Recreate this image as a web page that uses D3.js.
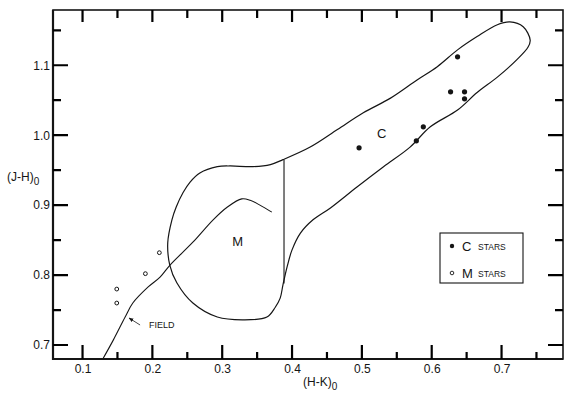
<!DOCTYPE html>
<html>
<head>
<meta charset="utf-8">
<script src="https://cdn.jsdelivr.net/npm/d3@7"></script>
<style>
body { margin: 0; background: #fff; }
svg { font-family: "Liberation Sans", Arial, sans-serif; }
</style>
</head>
<body>
<svg id="chart" width="568" height="396"></svg>
<script>
// tick values
var xMajor = [0.1, 0.2, 0.3, 0.4, 0.5, 0.6, 0.7];
var xMinor = [0.15, 0.25, 0.35, 0.45, 0.55, 0.65, 0.75];
var yMajor = [0.7, 0.8, 0.9, 1.0, 1.1];
var yMinor = [0.75, 0.85, 0.95, 1.05, 1.15];

// [(H-K)0, (J-H)0]
var cStars = [[0.637, 1.112], [0.627, 1.062], [0.647, 1.062], [0.647, 1.052],
	[0.588, 1.012], [0.578, 0.992], [0.496, 0.982]];
var mStars = [[0.210, 0.832], [0.190, 0.802], [0.149, 0.780], [0.149, 0.760]];

var fieldLine = [[0.129, 0.680], [0.144, 0.707], [0.161, 0.740], [0.172, 0.760],
	[0.194, 0.783], [0.211, 0.797], [0.225, 0.814], [0.258, 0.847], [0.287, 0.879],
	[0.307, 0.897], [0.328, 0.909], [0.340, 0.907], [0.354, 0.900], [0.371, 0.890]];

// boundary of the M and C regions
var outline = [[0.387, 0.965], [0.369, 0.958], [0.344, 0.955], [0.311, 0.956],
	[0.293, 0.955], [0.268, 0.946], [0.254, 0.933], [0.244, 0.918], [0.234, 0.897],
	[0.228, 0.879], [0.222, 0.846], [0.225, 0.814], [0.235, 0.789], [0.258, 0.760],
	[0.293, 0.740], [0.330, 0.736], [0.364, 0.740], [0.376, 0.754], [0.383, 0.767],
	[0.387, 0.786], [0.393, 0.812], [0.400, 0.836], [0.412, 0.860], [0.430, 0.879],
	[0.455, 0.896], [0.493, 0.926], [0.531, 0.955], [0.569, 0.983], [0.598, 1.012],
	[0.637, 1.036], [0.665, 1.061], [0.694, 1.083], [0.722, 1.108], [0.738, 1.126],
	[0.741, 1.136], [0.731, 1.155], [0.712, 1.162], [0.694, 1.158], [0.665, 1.141],
	[0.637, 1.122], [0.608, 1.098], [0.579, 1.079], [0.541, 1.053], [0.502, 1.032],
	[0.465, 1.008], [0.426, 0.983]];
var divider = [[0.3885, 0.965], [0.3885, 0.788]];

var legendItems = [{ big: "C", small: "STARS", filled: true },
	{ big: "M", small: "STARS", filled: false }];

var L = 53, R = 563, T = 10, B = 359;
var ink = "#151515";

var x = d3.scaleLinear().domain([0.0577, 0.788]).range([L, R]);
var y = d3.scaleLinear().domain([0.68, 1.179]).range([B, T]);

var svg = d3.select("#chart");
var fmt = d3.format(".1f");

// frame first, ticks on top of it
svg.append("rect").attr("x", L).attr("y", T).attr("width", R - L).attr("height", B - T)
	.attr("fill", "none").attr("stroke", ink).attr("stroke-width", 1.6);
svg.append("path")
	.attr("d", "M" + L + "," + T + "V" + B + "H" + R)
	.attr("fill", "none").attr("stroke", ink).attr("stroke-width", 2.2);

// tick marks, all pointing into the plot
var tickSpecs = [
	{ vals: xMajor, dir: "x", at: B, len: -14 },
	{ vals: xMinor, dir: "x", at: B, len: -7 },
	{ vals: xMajor, dir: "x", at: T, len: 12 },
	{ vals: xMinor, dir: "x", at: T, len: 8 },
	{ vals: yMajor, dir: "y", at: L, len: 15 },
	{ vals: yMinor, dir: "y", at: L, len: 8 },
	{ vals: yMajor, dir: "y", at: R, len: -15 },
	{ vals: yMinor, dir: "y", at: R, len: -8 }
];
var tickPath = d3.path();
tickSpecs.forEach(function(s) {
	s.vals.forEach(function(v) {
		if (s.dir === "x") {
			tickPath.moveTo(x(v), s.at);
			tickPath.lineTo(x(v), s.at + s.len);
		} else {
			tickPath.moveTo(s.at, y(v));
			tickPath.lineTo(s.at + s.len, y(v));
		}
	});
});
svg.append("path")
	.attr("d", tickPath.toString())
	.attr("fill", "none")
	.attr("stroke", "#000")
	.attr("stroke-width", 2.2);

// tick labels via d3 axes (their own tick lines removed)
function styleAxis(g) {
	g.select(".domain").remove();
	g.selectAll(".tick line").remove();
	g.selectAll("text").attr("fill", ink).attr("font-size", 12)
		.attr("font-family", "Liberation Sans, Arial, sans-serif");
}
svg.append("g").attr("transform", "translate(0," + B + ")")
	.call(d3.axisBottom(x).tickValues(xMajor).tickSize(0).tickPadding(5).tickFormat(fmt))
	.call(styleAxis);
svg.append("g").attr("transform", "translate(" + L + ",0)")
	.call(d3.axisLeft(y).tickValues(yMajor).tickSize(0).tickPadding(3).tickFormat(fmt))
	.call(styleAxis);

// axis titles
var yt = svg.append("text").attr("x", 7).attr("y", 181)
	.attr("font-size", 12).attr("fill", ink).text("(J-H)");
yt.append("tspan").attr("dy", 4).attr("font-size", 10).text("0");
var xt = svg.append("text").attr("x", 303).attr("y", 386)
	.attr("font-size", 12).attr("fill", ink).text("(H-K)");
xt.append("tspan").attr("dy", 4).attr("font-size", 10).text("0");

// curves
var line = d3.line().x(function(d) { return x(d[0]); }).y(function(d) { return y(d[1]); });

svg.append("path")
	.attr("d", line.curve(d3.curveCatmullRomClosed)(outline))
	.attr("fill", "none").attr("stroke", ink).attr("stroke-width", 1.2);

svg.append("path")
	.attr("d", line.curve(d3.curveCatmullRom)(fieldLine))
	.attr("fill", "none").attr("stroke", ink).attr("stroke-width", 1.1);

svg.append("path")
	.attr("d", line.curve(d3.curveLinear)(divider))
	.attr("fill", "none").attr("stroke", ink).attr("stroke-width", 1.1);

// stars
svg.selectAll("circle.c")
	.data(cStars)
	.enter().append("circle")
	.attr("class", "c")
	.attr("cx", function(d) { return x(d[0]); })
	.attr("cy", function(d) { return y(d[1]); })
	.attr("r", 2.6)
	.attr("fill", ink);

svg.selectAll("circle.m")
	.data(mStars)
	.enter().append("circle")
	.attr("class", "m")
	.attr("cx", function(d) { return x(d[0]); })
	.attr("cy", function(d) { return y(d[1]); })
	.attr("r", 1.9)
	.attr("fill", "none")
	.attr("stroke", ink)
	.attr("stroke-width", 1);

// region labels
svg.append("text").attr("x", x(0.5285)).attr("y", y(0.996))
	.attr("text-anchor", "middle").attr("font-size", 13).attr("fill", ink).text("C");
svg.append("text").attr("x", x(0.322)).attr("y", y(0.842))
	.attr("text-anchor", "middle").attr("font-size", 13)
	.attr("fill", ink).text("M");

// FIELD arrow
svg.append("defs").append("marker")
	.attr("id", "head").attr("viewBox", "0 0 10 10")
	.attr("refX", 9).attr("refY", 5)
	.attr("markerWidth", 6).attr("markerHeight", 6)
	.attr("orient", "auto")
	.append("path").attr("d", "M0,1L10,5L0,9Z").attr("fill", ink);
svg.append("line")
	.attr("x1", x(0.1824)).attr("y1", y(0.7286))
	.attr("x2", x(0.1666)).attr("y2", y(0.7386))
	.attr("stroke", ink).attr("stroke-width", 0.8)
	.attr("marker-end", "url(#head)");
svg.append("text").attr("x", x(0.1953)).attr("y", y(0.724))
	.attr("font-size", 9).attr("fill", ink).text("FIELD");

// legend
var lg = svg.append("g").attr("transform", "translate(440,233)");
lg.append("rect").attr("width", 83).attr("height", 50)
	.attr("fill", "none").attr("stroke", ink).attr("stroke-width", 1.1);
var item = lg.selectAll("g.item")
	.data(legendItems)
	.enter().append("g")
	.attr("class", "item")
	.attr("transform", function(d, i) { return "translate(0," + (13 + i * 27) + ")"; });
item.append("circle")
	.attr("cx", 12).attr("cy", 0).attr("r", function(d) { return d.filled ? 2.2 : 1.8; })
	.attr("fill", function(d) { return d.filled ? ink : "none"; })
	.attr("stroke", ink).attr("stroke-width", function(d) { return d.filled ? 0 : 0.9; });
item.append("text")
	.attr("x", 22).attr("y", 4.5)
	.attr("font-size", 13).attr("fill", ink)
	.text(function(d) { return d.big; });
item.append("text")
	.attr("x", 38).attr("y", 4)
	.attr("font-size", 8.5).attr("fill", ink)
	.text(function(d) { return d.small; });
</script>
</body>
</html>
